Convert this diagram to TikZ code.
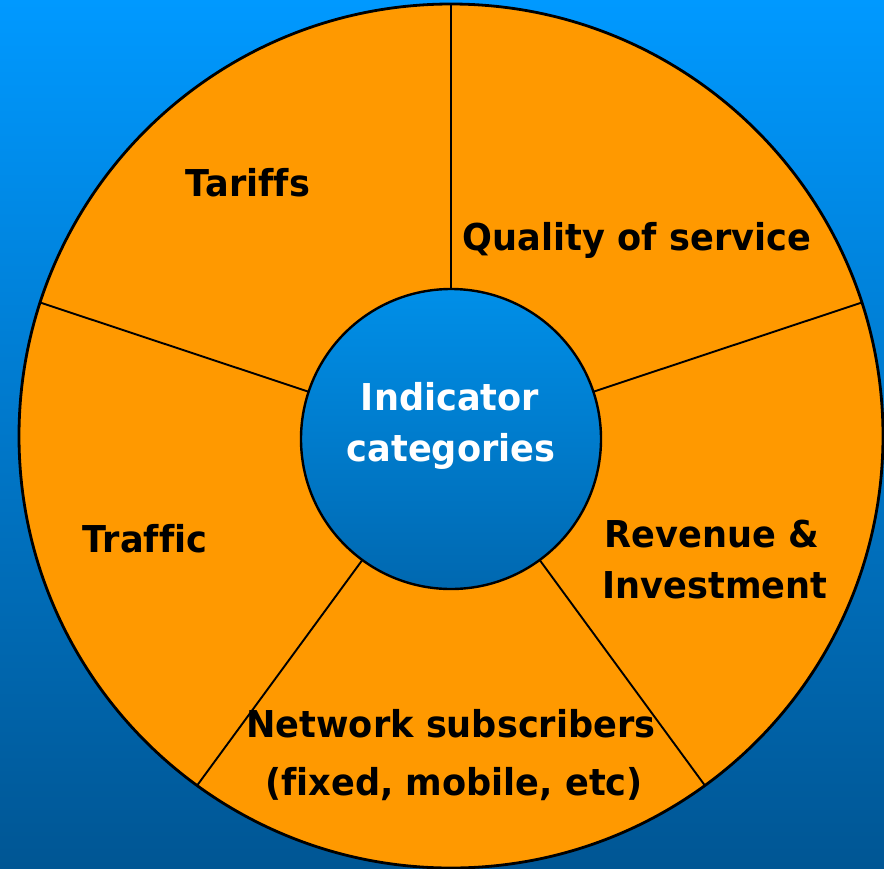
\documentclass[tikz,border=0pt]{standalone}
\usepackage{fontspec}
\setmainfont{DejaVu Sans}[FakeStretch=0.95, Ligatures={NoCommon}]
\definecolor{bgtop}{RGB}{0,153,255}
\definecolor{bgbot}{RGB}{0,86,148}
\definecolor{pie}{RGB}{255,153,0}
\definecolor{hubtop}{RGB}{0,143,232}
\definecolor{hubbot}{RGB}{0,104,176}
\tikzset{
  lbl/.style={anchor=base, inner sep=0pt, font=\fontsize{37}{44}\selectfont\bfseries, text=black},
  hublbl/.style={lbl, text=white},
  spoke/.style={draw=black, line width=1.9pt},
}
\begin{document}
\begin{tikzpicture}[x=1pt,y=-1pt]
\useasboundingbox (0,0) rectangle (884,868);
\shade[top color=bgtop, bottom color=bgbot] (0,0) rectangle (884,868);
\node[circle, minimum size=864pt, inner sep=0pt, outer sep=0pt, fill=pie, draw=black, line width=2.8pt] (outer) at (451,436) {};
\coordinate (ctr) at (451,439);
\foreach \a in {90,162,234,306,18} {
  \draw[spoke] (outer.\a) -- (ctr);
}
\node[circle, minimum size=300pt, inner sep=0pt, outer sep=0pt, top color=hubtop, bottom color=hubbot, draw=black, line width=2.4pt] (inner) at (ctr) {};
\node[lbl] (tariffs) at (248,196) {Tariffs};
\node[lbl] (qos) at (637,250) {Quality of service};
\node[hublbl] (ind1) at (450,410) {Indicator};
\node[hublbl] (ind2) at (451,461) {categories};
\node[lbl] (rev1) at (712,547) {Revenue \&};
\node[lbl] (rev2) at (715,598) {Investment};
\node[lbl] (traffic) at (145,552) {Traffic};
\node[lbl] (net1) at (451,737) {Network subscribers};
\node[lbl] (net2) at (454,795) {(fixed, mobile, etc)};
\end{tikzpicture}
\end{document}
